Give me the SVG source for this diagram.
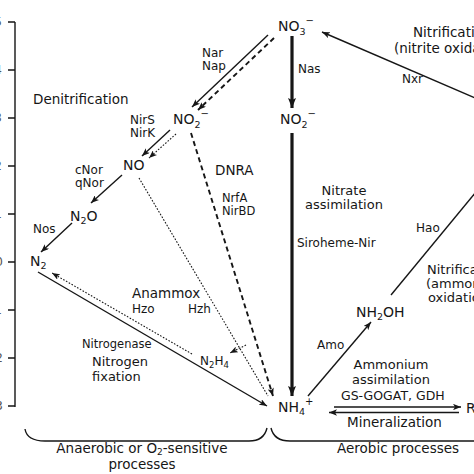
<svg xmlns="http://www.w3.org/2000/svg" width="474" height="474" viewBox="0 0 474 474">
<style>
text{font-family:"DejaVu Sans","Liberation Sans",sans-serif;fill:#161616}
.sp{font-size:14px}
.pr{font-size:13.5px}
.pr2{font-size:13px}
.en{font-size:12px}
.bt{font-size:13.5px}
.ax{font-size:12px;fill:#555}
.ln{stroke:#161616;fill:none;stroke-width:1.4}
.thick{stroke:#161616;fill:none;stroke-width:3.2}
.dash{stroke:#161616;fill:none;stroke-width:1.9;stroke-dasharray:5 3.5}
.dot{stroke:#161616;fill:none;stroke-width:1.1;stroke-dasharray:1.6 1.6}
</style>
<defs>
<marker id="ah" viewBox="0 0 10 8" refX="10" refY="4" markerWidth="8" markerHeight="6.4" markerUnits="userSpaceOnUse" orient="auto"><path d="M0,0 L10,4 L0,8 L2.5,4 z" fill="#161616"/></marker>
<marker id="ahb" viewBox="0 0 10 8" refX="10" refY="4" markerWidth="10" markerHeight="8" markerUnits="userSpaceOnUse" orient="auto"><path d="M0,0 L10,4 L0,8 L2,4 z" fill="#161616"/></marker>
</defs>
<rect width="474" height="474" fill="#fff"/>

<g id="axis">
<path class="ln" d="M15,22 V407 M8,22 H15 M8,70 H15 M8,118 H15 M8,166 H15 M8,214 H15 M8,262 H15 M8,310 H15 M8,358 H15 M8,406 H15"/>
<text class="ax" x="2" y="26" text-anchor="end">+5</text>
<text class="ax" x="2" y="74" text-anchor="end">+4</text>
<text class="ax" x="2" y="122" text-anchor="end">+3</text>
<text class="ax" x="2" y="170" text-anchor="end">+2</text>
<text class="ax" x="2" y="218" text-anchor="end">+1</text>
<text class="ax" x="3" y="266" text-anchor="end">0</text>
<text class="ax" x="2" y="314" text-anchor="end">−1</text>
<text class="ax" x="3" y="362" text-anchor="end">−2</text>
<text class="ax" x="3" y="410" text-anchor="end">−3</text>
</g>

<g id="connectors">
<path class="ln" d="M268,35 L192,107" marker-end="url(#ah)"/>
<path class="dash" d="M274,38 L198,110" marker-end="url(#ah)"/>
<path class="thick" d="M292,36 V108" marker-end="url(#ahb)"/>
<path class="thick" d="M292,133 V396" marker-end="url(#ahb)"/>
<path class="ln" d="M170,130 L142,156" marker-end="url(#ah)"/>
<path class="dot" d="M176,134 L149,158" marker-end="url(#ah)"/>
<path class="ln" d="M122,175 L91,203" marker-end="url(#ah)"/>
<path class="ln" d="M72,223 L41,252" marker-end="url(#ah)"/>
<path class="ln" d="M38,272 L267,406" marker-end="url(#ah)"/>
<path class="dot" d="M192,354 L52,273" marker-end="url(#ah)"/>
<path class="dot" d="M139,178 L268,396"/>
<path class="dot" d="M246,345 L230,353" marker-end="url(#ah)"/>
<path class="dash" d="M191,133 L273,396" marker-end="url(#ah)"/>
<path class="ln" d="M480,100 L322,32" marker-end="url(#ah)"/>
<path class="ln" d="M391,295 L480,187"/>
<path class="ln" d="M308,396 L371,322" marker-end="url(#ah)"/>
<path class="ln" d="M334,407 H461" marker-end="url(#ah)"/>
<path class="ln" d="M459,412.5 H329" marker-end="url(#ah)"/>
</g>

<g id="brackets">
<path class="ln" d="M25,429 Q27,441 45,441 H249 Q264,441 267,428"/>
<path class="ln" d="M271,428 Q274,441 290,441 H474"/>
</g>

<g id="no3"><text class="sp" x="278" y="31">NO<tspan font-size="9.5" dy="4">3</tspan><tspan font-size="10" dy="-11">−</tspan></text></g>
<g id="no2-right"><text class="sp" x="280" y="124">NO<tspan font-size="9.5" dy="4">2</tspan><tspan font-size="10" dy="-11">−</tspan></text></g>
<g id="no2-left"><text class="sp" x="173" y="124">NO<tspan font-size="9.5" dy="4">2</tspan><tspan font-size="10" dy="-11">−</tspan></text></g>
<g id="no"><text class="sp" x="123" y="170">NO</text></g>
<g id="n2o"><text class="sp" x="70" y="221">N<tspan font-size="9.5" dy="3">2</tspan><tspan dy="-3">O</tspan></text></g>
<g id="n2"><text class="sp" x="30" y="266">N<tspan font-size="9.5" dy="3">2</tspan></text></g>
<g id="n2h4"><text font-size="12" x="200" y="365">N<tspan font-size="8.5" dy="3">2</tspan><tspan dy="-3">H</tspan><tspan font-size="8.5" dy="3">4</tspan></text></g>
<g id="nh2oh"><text class="sp" x="356" y="317">NH<tspan font-size="9.5" dy="3">2</tspan><tspan dy="-3">OH</tspan></text></g>
<g id="nh4"><text class="sp" x="278" y="412">NH<tspan font-size="9.5" dy="3">4</tspan><tspan font-size="10" dy="-10">+</tspan></text></g>
<g id="rnh2"><text class="sp" x="466" y="413">R</text></g>

<g id="labels">
<text class="pr" x="33" y="104">Denitrification</text>
<text class="en" x="202" y="57">Nar</text>
<text class="en" x="202" y="70">Nap</text>
<text class="en" x="298" y="73">Nas</text>
<text class="en" x="130" y="124">NirS</text>
<text class="en" x="130" y="137">NirK</text>
<text class="en" x="75" y="174">cNor</text>
<text class="en" x="75" y="187">qNor</text>
<text class="en" x="33" y="233">Nos</text>
<text class="pr" x="215" y="175">DNRA</text>
<text class="en" x="222" y="202" style="font-size:11.5px">NrfA</text>
<text class="en" x="222" y="215" style="font-size:11.5px">NirBD</text>
<text class="pr2" x="344" y="195" text-anchor="middle">Nitrate</text>
<text class="pr2" x="344" y="209" text-anchor="middle">assimilation</text>
<text class="en" x="297" y="247">Siroheme-Nir</text>
<text class="pr" x="413" y="37">Nitrification</text>
<text class="pr" x="394" y="53">(nitrite oxidation)</text>
<text class="en" x="402" y="83">Nxr</text>
<text class="en" x="416" y="232">Hao</text>
<text class="pr2" x="427" y="274">Nitrification</text>
<text class="pr2" x="426" y="288">(ammonia</text>
<text class="pr2" x="428" y="302">oxidation)</text>
<text class="en" x="317" y="349">Amo</text>
<text class="pr" x="132" y="298">Anammox</text>
<text class="en" x="132" y="313">Hzo</text>
<text class="en" x="188" y="313">Hzh</text>
<text class="en" x="82" y="348" style="font-size:11.5px">Nitrogenase</text>
<text class="pr2" x="92" y="366">Nitrogen</text>
<text class="pr2" x="92" y="381">fixation</text>
<text class="pr2" x="391" y="369" text-anchor="middle">Ammonium</text>
<text class="pr2" x="391" y="384" text-anchor="middle">assimilation</text>
<text class="en" x="341" y="400" style="font-size:12.5px">GS-GOGAT, GDH</text>
<text class="pr" x="347" y="427">Mineralization</text>
<text class="bt" x="142" y="453" text-anchor="middle">Anaerobic or O<tspan font-size="9" dy="2">2</tspan><tspan dy="-2">-sensitive</tspan></text>
<text class="bt" x="142" y="469" text-anchor="middle">processes</text>
<text class="bt" x="337" y="453">Aerobic processes</text>
</g>
</svg>
